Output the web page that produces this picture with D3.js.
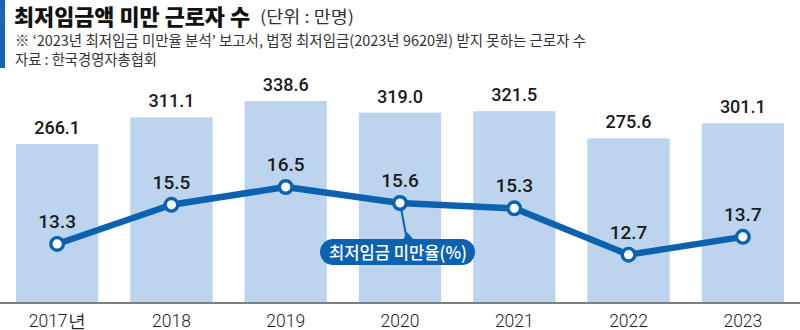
<!DOCTYPE html>
<html><head><meta charset="utf-8">
<script src="https://cdn.jsdelivr.net/npm/d3@7/dist/d3.min.js"></script>
<style>html,body{margin:0;padding:0;background:#fff}svg{display:block}</style>
</head><body>
<svg id="c" width="800" height="330"></svg>
<script>
const years = ["2017년","2018","2019","2020","2021","2022","2023"];
const workers = [266.1, 311.1, 338.6, 319.0, 321.5, 275.6, 301.1];
const rates = [13.3, 15.5, 16.5, 15.6, 15.3, 12.7, 13.7];
const title = "최저임금액 미만 근로자 수";
const unit = "(단위 : 만명)";
const note = "※ ‘2023년 최저임금 미만율 분석’ 보고서, 법정 최저임금(2023년 9620원) 받지 못하는 근로자 수";
const source = "자료 : 한국경영자총협회";
const legendLabel = "최저임금 미만율(%)";

const svg = d3.select("#c");
const KR = "'Noto Sans CJK KR','Noto Sans',sans-serif";
const NUM = "Roboto,'Noto Sans',sans-serif";
const lineColor = "#0d62b0";
const barColor = "#bcd4ee";

// header
svg.append("rect").attr("x",0).attr("y",0).attr("width",5).attr("height",68).attr("fill","#1b63b5");
svg.append("text").attr("x",14).attr("y",25).attr("font-family",KR).attr("font-weight",900)
  .attr("font-size",21.5).attr("fill","#111")
  .attr("textLength",236).attr("lengthAdjust","spacingAndGlyphs").text(title);
svg.append("text").attr("x",260).attr("y",23).attr("font-family",KR).attr("font-weight",400)
  .attr("font-size",16.5).attr("fill","#333")
  .attr("textLength",94).attr("lengthAdjust","spacingAndGlyphs").text(unit);
svg.append("text").attr("x",15).attr("y",46).attr("font-family",KR).attr("font-size",14.5)
  .attr("fill","#333").attr("textLength",571).attr("lengthAdjust","spacingAndGlyphs").text(note);
svg.append("text").attr("x",15).attr("y",65).attr("font-family",KR).attr("font-size",15)
  .attr("fill","#333").attr("textLength",142).attr("lengthAdjust","spacingAndGlyphs").text(source);

const x = d3.scaleBand().domain(years).range([0,800]).paddingInner(0.28).paddingOuter(0.14);
const yBar = d3.scaleLinear().domain([0, 338.6]).range([302, 101]);
const yRate = d3.scaleLinear().domain([10, 17]).range([302.7, 178.1]);

// bars
svg.append("g").selectAll("rect").data(workers).join("rect")
  .attr("x",(d,i)=>x(years[i])).attr("width",x.bandwidth())
  .attr("y",d=>yBar(d)).attr("height",d=>yBar(0)-yBar(d)).attr("fill",barColor);
svg.append("g").selectAll("text").data(workers).join("text")
  .attr("x",(d,i)=>x(years[i])+x.bandwidth()/2).attr("y",d=>yBar(d)-10)
  .attr("text-anchor","middle").attr("font-family",NUM).attr("font-weight",500)
  .attr("font-size",18).attr("fill","#1a1a1a").text(d=>d.toFixed(1));

// axis
const axis = d3.axisBottom(x).tickSize(0).tickPadding(12);
const ag = svg.append("g").attr("transform","translate(0,303)").call(axis);
ag.select(".domain").attr("stroke","#555").attr("stroke-width",1.5).attr("d","M0,0H800");
ag.selectAll("text").attr("font-family",NUM).attr("font-weight",300).attr("font-size",17.5).attr("fill","#222");

// legend pointer and pill
const cx = i => x(years[i]) + x.bandwidth()/2;
const lp = svg.append("g");
lp.append("line").attr("x1",cx(3)).attr("y1",yRate(rates[3])).attr("x2",cx(3)+7).attr("y2",240)
  .attr("stroke",lineColor).attr("stroke-width",2);
lp.append("path").attr("d",`M${cx(3)+3},240 L${cx(3)+7},232 L${cx(3)+14},240 Z`).attr("fill",lineColor);
lp.append("rect").attr("x",320).attr("y",239).attr("width",155).attr("height",26).attr("rx",13)
  .attr("fill",lineColor);
lp.append("text").attr("x",398).attr("y",258.5).attr("text-anchor","middle").attr("font-family",KR)
  .attr("font-weight",500).attr("font-size",17.5).attr("fill","#fff")
  .attr("textLength",138).attr("lengthAdjust","spacingAndGlyphs").text(legendLabel);

// line
const line = d3.line().x((d,i)=>cx(i)).y(d=>yRate(d));
svg.append("path").datum(rates).attr("d",line).attr("fill","none").attr("stroke",lineColor)
  .attr("stroke-width",6.5).attr("stroke-linejoin","round");
svg.append("g").selectAll("circle").data(rates).join("circle")
  .attr("cx",(d,i)=>cx(i)).attr("cy",d=>yRate(d)).attr("r",6.3)
  .attr("fill","#fff").attr("stroke",lineColor).attr("stroke-width",3.4);
svg.append("g").selectAll("text").data(rates).join("text")
  .attr("x",(d,i)=>cx(i)).attr("y",d=>yRate(d)-16).attr("text-anchor","middle")
  .attr("font-family",NUM).attr("font-weight",500).attr("font-size",19).attr("fill","#1a1a1a")
  .text(d=>d.toFixed(1));
</script>
</body></html>
